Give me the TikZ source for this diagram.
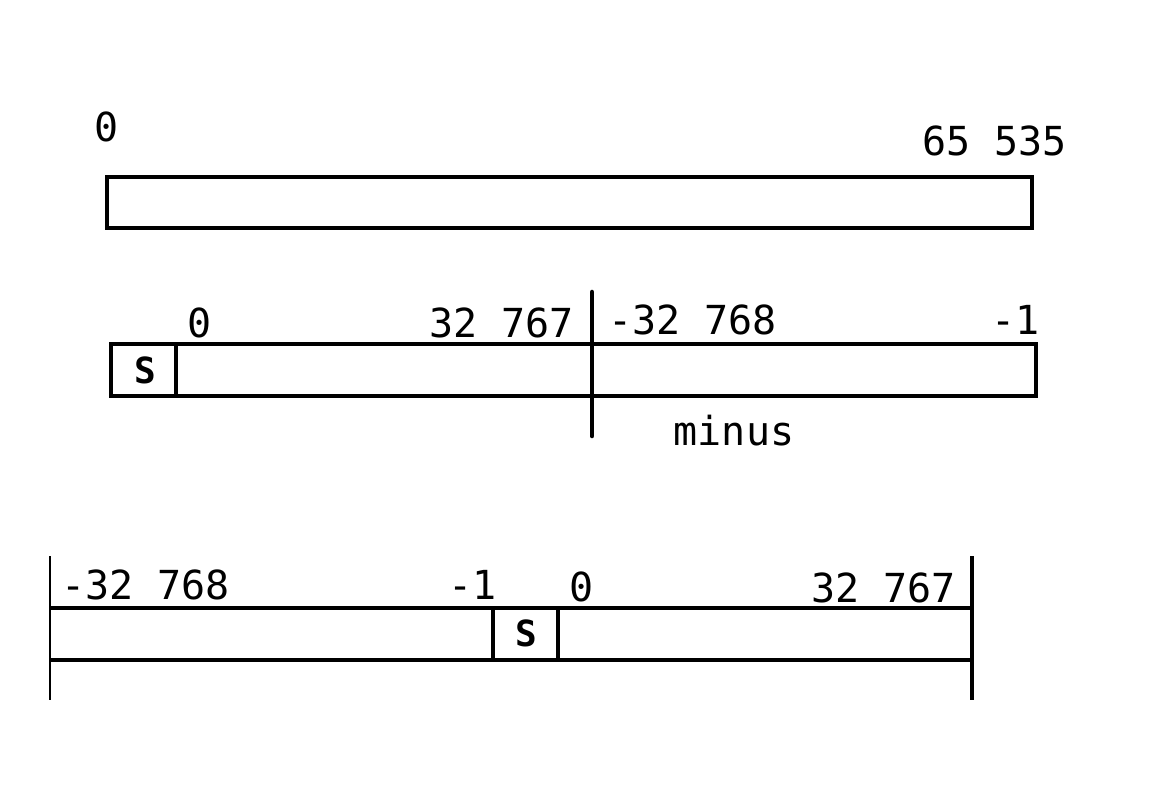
\documentclass[tikz,border=0pt]{standalone}
\usepackage{fontspec}
\setmonofont{DejaVu Sans Mono}
\begin{document}
\begin{tikzpicture}[
		x=0.75pt, y=-0.75pt,
		bar/.style={line width=3.4pt},
		lbl/.style={inner sep=0pt, font=\ttfamily\fontsize{30}{32}\selectfont},
		sign/.style={inner sep=0pt, font=\ttfamily\bfseries\fontsize{27}{28}\selectfont}
	]
	\useasboundingbox (0,0) rectangle (1160,808);

	% unsigned
	\draw[bar] (107,177) rectangle (1032,228);
	\node[lbl, anchor=base] (uzero) at (107,141) {0};
	\node[lbl, anchor=base east] (umax) at (1067,155) {65 535};

	% signed, sign bit
	\draw[bar] (111,344) rectangle (1036,396);
	\draw[bar] (176,344) -- (176,396);
	\draw[bar, line cap=round] (592,292) -- (592,436);
	\node[sign] (sbit) at (145,370) {S};
	\node[lbl, anchor=base] (szero) at (200,337) {0};
	\node[lbl, anchor=base east] (smax) at (574,337) {32 767};
	\node[lbl, anchor=base west] (smin) at (608,334) {-32 768};
	\node[lbl, anchor=base east] (sneg) at (1040,334) {-1};
	\node[lbl, anchor=base] (minus) at (734,445) {minus};

	% two's complement order
	\draw[bar] (50,608) -- (972,608);
	\draw[bar] (50,660) -- (972,660);
	\draw[bar] (493,608) -- (493,660);
	\draw[bar] (558,608) -- (558,660);
	\draw[line width=1pt] (50,556) -- (50,700);
	\draw[bar] (972,556) -- (972,700);
	\node[sign] (tbit) at (526,633) {S};
	\node[lbl, anchor=base west] (tmin) at (61,599) {-32 768};
	\node[lbl, anchor=base east] (tneg) at (497,599) {-1};
	\node[lbl, anchor=base] (tzero) at (582,601) {0};
	\node[lbl, anchor=base east] (tmax) at (956,602) {32 767};
\end{tikzpicture}
\end{document}
